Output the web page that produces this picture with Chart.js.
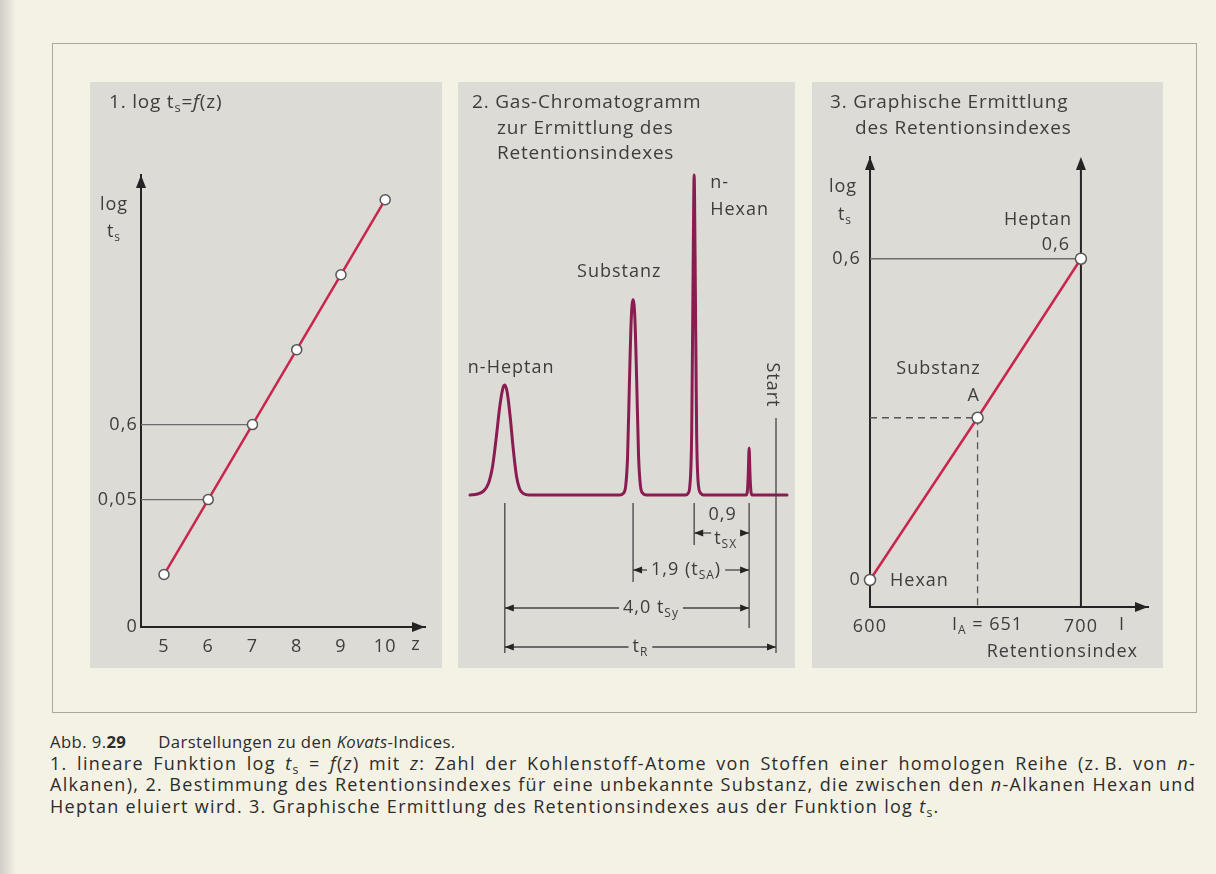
<!DOCTYPE html>
<html lang="de">
<head>
<meta charset="utf-8">
<title>Kovats-Indices</title>
<script src="https://cdn.jsdelivr.net/npm/chart.js@4.4.1/dist/chart.umd.min.js"></script>
<style>
  html, body { margin: 0; padding: 0; }
  body { width: 1216px; height: 874px; position: relative; overflow: hidden;
         background: #f4f2e5; font-family: "Open Sans", sans-serif; color: #3b3b3b; }
  #scanEdge { position: absolute; left: 0; top: 0; width: 16px; height: 874px;
              background: linear-gradient(to right, #cfcdc6, #f4f2e5); }
  #frame { position: absolute; left: 52px; top: 43px; width: 1143px; height: 668px;
           border: 1px solid #aaa79f; }
  .panel { position: absolute; top: 82px; height: 586px; background: #dcdbd6; }
  .panel canvas { position: absolute; left: 0; top: 0; }
  .title { position: absolute; font-size: 19px; letter-spacing: 0.8px; line-height: 25.5px;
           white-space: nowrap; color: #3d3d3d; }
  .title sub, #caption sub { font-size: 68%; line-height: 0; vertical-align: -0.3em; }
  #caption { position: absolute; left: 50px; top: 731px; width: 1146px; font-size: 18px;
             letter-spacing: 1.3px; line-height: 21.7px; color: #2c2c2c; }
  #caption .first { font-size: 16.7px; letter-spacing: 0.4px; white-space: nowrap; }
  #caption .j { text-align: justify; text-align-last: justify; white-space: nowrap; }
  #caption .l { white-space: nowrap; }
</style>
</head>
<body>
<div id="scanEdge"></div>
<div id="frame"></div>

<div class="panel" id="p1" style="left:90px;width:352px">
  <canvas id="c1" width="352" height="586"></canvas>
  <div class="title" style="left:19px;top:7px">1. log t<sub>s</sub>=<i>f</i>(z)</div>
</div>
<div class="panel" id="p2" style="left:458px;width:337px">
  <canvas id="c2" width="337" height="586"></canvas>
  <div class="title" style="left:14px;top:7px">2. Gas-Chromatogramm</div>
  <div class="title" style="left:39px;top:33px">zur Ermittlung des</div>
  <div class="title" style="left:39px;top:58px">Retentionsindexes</div>
</div>
<div class="panel" id="p3" style="left:812px;width:351px">
  <canvas id="c3" width="351" height="586"></canvas>
  <div class="title" style="left:18px;top:7px">3. Graphische Ermittlung</div>
  <div class="title" style="left:43px;top:33px">des Retentionsindexes</div>
</div>

<div id="caption">
  <div class="first">Abb. 9.<b>29</b><span style="margin-left:32px">Darstellungen zu den <i>Kovats</i>-Indices.</span></div>
  <div class="j">1. lineare Funktion log <i>t</i><sub>s</sub> = <i>f</i>(<i>z</i>) mit <i>z</i>: Zahl der Kohlenstoff-Atome von Stoffen einer homologen Reihe (z.&#8201;B. von <i>n</i>-</div>
  <div class="j">Alkanen), 2. Bestimmung des Retentionsindexes für eine unbekannte Substanz, die zwischen den <i>n</i>-Alkanen Hexan und</div>
  <div class="l">Heptan eluiert wird. 3. Graphische Ermittlung des Retentionsindexes aus der Funktion log <i>t</i><sub>s</sub>.</div>
</div>

<script>
// ---- panel 1: log ts = f(z) ----
const carbonNumbers = [5, 6, 7, 8, 9, 10];
const logTsLevels = [0.7, 1.7, 2.7, 3.7, 4.7, 5.7];   // plot units
const p1TickValues = [0, 1.7, 2.7];
const p1TickLabels = ['0', '0,05', '0,6'];
const p1GuidePoints = [1, 2];                          // points joined to the y axis

// ---- panel 2: chromatogram (net retention time, read right to left) ----
const traceTime = [4.57, 4.45, 4.35, 4.27, 4.20, 4.14, 4.08, 4.03, 4.00, 3.96, 3.91, 3.86, 3.81, 3.76, 3.70, 3.60,
  2.12, 2.06, 2.02, 1.99, 1.96, 1.93, 1.90, 1.87, 1.84, 1.81, 1.78, 1.74, 1.68,
  1.04, 1.00, 0.97, 0.94, 0.915, 0.90, 0.885, 0.86, 0.83, 0.79, 0.75,
  0.05, 0.03, 0.015, 0, -0.015, -0.03, -0.05, -0.62];
const traceSignal = [0, 0.3, 1.2, 3.5, 9, 18, 28, 33.5, 34.4, 32, 24, 14, 6, 2, 0.5, 0,
  0, 0.5, 3, 12, 35, 55, 61, 55, 35, 12, 3, 0.5, 0,
  0, 0.5, 3, 20, 75, 100, 75, 20, 3, 0.5, 0,
  0, 1, 6, 14.7, 6, 1, 0, 0];
const peakNames = ['n-Heptan', 'Substanz', 'n-Hexan', ''];
const peakTimes = [4.0, 1.9, 0.9, 0];
const peakHeights = [34.4, 61, 100, 14.7];
const startTime = -0.44;

// ---- panel 3: retention index ----
const retIndex = [600, 651, 700];
const retLogTs = [0, 0.303, 0.6];
const retNames = ['Hexan', 'Substanz', 'Heptan'];
const p3TickValues = [0, 0.6];
const p3TickLabels = ['0', '0,6'];

const RED = '#c8264d';
const PLUM = '#8a1c52';
const AXIS = '#242424';
const TEXT = '#3d3d3d';
const GUIDE = '#6c6c6c';
const FONT = '"Open Sans", sans-serif';

Chart.defaults.font.family = FONT;
Chart.defaults.color = TEXT;

// letter spacing of the printed labels
Chart.register({
  id: 'spacing',
  beforeLayout(chart) { chart.ctx.letterSpacing = '1.2px'; },
  beforeDraw(chart) { chart.ctx.letterSpacing = '1.2px'; }
});

function arrowHead(ctx, x, y, dir, len = 13, half = 5) {
  ctx.save();
  ctx.fillStyle = AXIS;
  ctx.beginPath();
  if (dir === 'up') { ctx.moveTo(x, y); ctx.lineTo(x - half, y + len); ctx.lineTo(x + half, y + len); }
  if (dir === 'right') { ctx.moveTo(x, y); ctx.lineTo(x - len, y - half); ctx.lineTo(x - len, y + half); }
  if (dir === 'left') { ctx.moveTo(x, y); ctx.lineTo(x + len, y - half); ctx.lineTo(x + len, y + half); }
  ctx.closePath();
  ctx.fill();
  ctx.restore();
}

// parts: [text, kind] with kind '' normal, 'i' italic, 's' subscript
function rich(ctx, parts, x, y, align, size = 18) {
  const fontOf = k => (k === 'i' ? 'italic ' : '') + (k === 's' ? Math.round(size * 0.68) : size) + 'px ' + FONT;
  ctx.save();
  ctx.letterSpacing = '1px';
  ctx.textBaseline = 'middle';
  ctx.textAlign = 'left';
  ctx.fillStyle = TEXT;
  let w = 0;
  const widths = parts.map(([t, k]) => { ctx.font = fontOf(k); const m = ctx.measureText(t).width; w += m; return m; });
  let cx = align === 'center' ? x - w / 2 : align === 'right' ? x - w : x;
  parts.forEach(([t, k], i) => {
    ctx.font = fontOf(k);
    ctx.fillText(t, cx, y + (k === 's' ? size * 0.32 : 0));
    cx += widths[i];
  });
  ctx.restore();
  return w;
}

function hLine(ctx, x1, y1, x2, y2, color, width) {
  ctx.save();
  ctx.strokeStyle = color;
  ctx.lineWidth = width;
  ctx.beginPath();
  ctx.moveTo(x1, y1);
  ctx.lineTo(x2, y2);
  ctx.stroke();
  ctx.restore();
}

const comma = v => v.toFixed(1).replace('.', ',');

const baseOptions = {
  responsive: false,
  animation: false,
  events: [],
  plugins: { legend: { display: false }, tooltip: { enabled: false } }
};

// ---------- panel 1 ----------
const deco1 = {
  id: 'deco1',
  afterDraw(chart) {
    const { ctx, chartArea: a } = chart;
    arrowHead(ctx, a.left, a.top, 'up');
    arrowHead(ctx, a.right, a.bottom, 'right');
    rich(ctx, [['log', '']], a.left - 27, a.top + 30, 'center');
    rich(ctx, [['t', ''], ['s', 's']], a.left - 27, a.top + 57, 'center');
    rich(ctx, [['z', '']], a.right - 9, a.bottom + 18, 'center');
  }
};

const X1_MIN = 4.48;
new Chart(document.getElementById('c1'), {
  type: 'line',
  data: {
    datasets: [
      {
        data: carbonNumbers.map((z, i) => ({ x: z, y: logTsLevels[i] })),
        borderColor: RED, borderWidth: 2.5,
        pointRadius: 5, pointBackgroundColor: '#ffffff', pointBorderColor: '#555555', pointBorderWidth: 1.5,
        clip: false, order: 1
      },
      ...p1GuidePoints.map(i => ({
        data: [{ x: X1_MIN, y: logTsLevels[i] }, { x: carbonNumbers[i], y: logTsLevels[i] }],
        borderColor: GUIDE, borderWidth: 1.3, pointRadius: 0, clip: false, order: 2
      }))
    ]
  },
  options: {
    ...baseOptions,
    layout: { padding: { top: 93, right: 17, left: 0, bottom: 0 } },
    scales: {
      x: {
        type: 'linear', min: X1_MIN, max: 10.9,
        grid: { display: false, drawTicks: false },
        border: { display: true, color: AXIS, width: 2 },
        afterBuildTicks: ax => { ax.ticks = carbonNumbers.map(v => ({ value: v })); },
        ticks: { font: { size: 18 }, padding: 9, color: TEXT },
        afterFit: s => { s.height = 41; }
      },
      y: {
        type: 'linear', min: 0, max: 6.03,
        grid: { display: false, drawTicks: false },
        border: { display: true, color: AXIS, width: 2 },
        afterBuildTicks: ax => { ax.ticks = p1TickValues.map(v => ({ value: v })); },
        ticks: { font: { size: 18 }, padding: 3, color: TEXT, callback: (v, i) => p1TickLabels[i] },
        afterFit: s => { s.width = 51; }
      }
    }
  },
  plugins: [deco1]
});

// ---------- panel 2 ----------
const deco2 = {
  id: 'deco2',
  afterDraw(chart) {
    const { ctx, scales: { x, y } } = chart;
    const base = y.getPixelForValue(0);
    const px = peakTimes.map(t => x.getPixelForValue(t));
    const top = peakHeights.map(h => y.getPixelForValue(h));
    const xs = x.getPixelForValue(startTime);

    // start marker and extension lines
    hLine(ctx, xs, base - 77, xs, base + 158, '#444', 1.3);
    const extEnd = [158, 87, 50, 133];
    px.forEach((p, i) => hLine(ctx, p, base + 8, p, base + extEnd[i], '#444', 1.3));

    // dimension arrows with the label sitting in a gap of the line
    const dim = (x1, x2, yy, labelParts, dx = 0, size = 18) => {
      const cx = (x1 + x2) / 2 + dx;
      const w = rich(ctx, labelParts, cx, yy, 'center', size);
      const g1 = cx - w / 2 - 4, g2 = cx + w / 2 + 4;
      if (g1 > x1 + 2) hLine(ctx, x1, yy, g1, yy, '#444', 1.3);
      if (g2 < x2 - 2) hLine(ctx, g2, yy, x2, yy, '#444', 1.3);
      arrowHead(ctx, x1, yy, 'left', 9, 3.5);
      arrowHead(ctx, x2, yy, 'right', 9, 3.5);
    };
    // 0,9 t_SX
    const ySX = base + 38;
    rich(ctx, [[comma(peakTimes[2] - peakTimes[3]), '']], (px[2] + px[3]) / 2 + 1, ySX - 18, 'center');
    const mid = (px[2] + px[3]) / 2 + 4;
    const wsx = rich(ctx, [['t', ''], ['SX', 's']], mid, ySX + 6, 'center');
    hLine(ctx, px[2], ySX, mid - wsx / 2 - 3, ySX, '#444', 1.3);
    hLine(ctx, mid + wsx / 2 + 3, ySX, px[3], ySX, '#444', 1.3);
    arrowHead(ctx, px[2], ySX, 'left', 9, 3.5);
    arrowHead(ctx, px[3], ySX, 'right', 9, 3.5);

    dim(px[1], px[3], base + 75, [[comma(peakTimes[1] - peakTimes[3]) + ' (t', ''], ['SA', 's'], [')', '']], -5);
    dim(px[0], px[3], base + 113, [[comma(peakTimes[0] - peakTimes[3]) + ' t', ''], ['Sy', 's']], 24);
    dim(px[0], xs, base + 152, [['t', ''], ['R', 's']], 0);

    // peak names
    rich(ctx, [[peakNames[0], '']], px[0] - 37, top[0] - 17, 'left');
    rich(ctx, [[peakNames[1], '']], px[1] - 56, top[1] - 28, 'left');
    rich(ctx, [['n-', '']], px[2] + 16, top[2] + 8, 'left');
    rich(ctx, [[peakNames[2].slice(2), '']], px[2] + 16, top[2] + 35, 'left');

    ctx.save();
    ctx.translate(xs - 4, base - 110);
    ctx.rotate(Math.PI / 2);
    rich(ctx, [['Start', '']], 0, 0, 'center');
    ctx.restore();
  }
};

new Chart(document.getElementById('c2'), {
  type: 'line',
  data: {
    datasets: [{
      data: traceTime.map((t, i) => ({ x: t, y: traceSignal[i] })),
      borderColor: PLUM, borderWidth: 3, borderJoinStyle: 'round', borderCapStyle: 'round',
      cubicInterpolationMode: 'monotone', pointRadius: 0, clip: false
    }]
  },
  options: {
    ...baseOptions,
    layout: { padding: { top: 93, right: 8, left: 12, bottom: 13 } },
    scales: {
      x: { type: 'linear', reverse: true, min: -0.62, max: 4.57, display: false },
      y: { type: 'linear', min: -50, max: 100, display: false }
    }
  },
  plugins: [deco2]
});

// ---------- panel 3 ----------
const axes3 = {
  id: 'axes3',
  beforeDatasetsDraw(chart) {
    const { ctx, chartArea: a, scales: { x } } = chart;
    const xr = x.getPixelForValue(retIndex[2]);
    hLine(ctx, xr, a.bottom, xr, a.top + 8, AXIS, 2);
    arrowHead(ctx, xr, a.top, 'up');
    arrowHead(ctx, a.left, a.top, 'up');
    arrowHead(ctx, a.right, a.bottom, 'right');
  },
  afterDraw(chart) {
    const { ctx, chartArea: a, scales: { x, y } } = chart;
    const px = retIndex.map(v => x.getPixelForValue(v));
    const py = retLogTs.map(v => y.getPixelForValue(v));
    rich(ctx, [['log', '']], a.left - 27, a.top + 30, 'center');
    rich(ctx, [['t', ''], ['s', 's']], a.left - 25, a.top + 58, 'center');
    rich(ctx, [[retNames[2], '']], px[2] - 9, py[2] - 39, 'right');
    rich(ctx, [[comma(retLogTs[2]), '']], px[2] - 11, py[2] - 14, 'right');
    rich(ctx, [[retNames[1], '']], px[1] - 39, py[1] - 49, 'center');
    rich(ctx, [['A', '']], px[1] - 4, py[1] - 22, 'center');
    rich(ctx, [[retNames[0], '']], px[0] + 20, py[0] + 1, 'left');
    rich(ctx, [['I', ''], ['A', 's'], [' = ' + retIndex[1], '']], px[1] + 10, a.bottom + 18, 'center');
    rich(ctx, [['I', '']], px[2] + 41, a.bottom + 18, 'center');
    rich(ctx, [['Retentionsindex', '']], a.right - 10, a.bottom + 45, 'right');
  }
};

new Chart(document.getElementById('c3'), {
  type: 'line',
  data: {
    datasets: [
      {
        data: retIndex.map((v, i) => ({ x: v, y: retLogTs[i] })),
        borderColor: RED, borderWidth: 2.5,
        pointRadius: 5.5, pointBackgroundColor: '#ffffff', pointBorderColor: '#555555', pointBorderWidth: 1.5,
        clip: false, order: 1
      },
      {
        data: [{ x: retIndex[0], y: retLogTs[2] }, { x: retIndex[2], y: retLogTs[2] }],
        borderColor: GUIDE, borderWidth: 1.3, pointRadius: 0, clip: false, order: 2
      },
      {
        data: [{ x: retIndex[0], y: retLogTs[1] }, { x: retIndex[1], y: retLogTs[1] }, { x: retIndex[1], y: -0.0505 }],
        borderColor: '#555555', borderWidth: 1.3, borderDash: [7, 5], pointRadius: 0, clip: false, order: 2
      }
    ]
  },
  options: {
    ...baseOptions,
    layout: { padding: { top: 75, right: 15, left: 0, bottom: 0 } },
    scales: {
      x: {
        type: 'linear', min: 600, max: 731.8,
        grid: { display: false, drawTicks: false },
        border: { display: true, color: AXIS, width: 2 },
        afterBuildTicks: ax => { ax.ticks = [retIndex[0], retIndex[2]].map(v => ({ value: v })); },
        ticks: { font: { size: 18 }, padding: 9, color: TEXT, callback: v => String(v) },
        afterFit: s => { s.height = 61; }
      },
      y: {
        type: 'linear', min: -0.0505, max: 0.79,
        grid: { display: false, drawTicks: false },
        border: { display: true, color: AXIS, width: 2 },
        afterBuildTicks: ax => { ax.ticks = p3TickValues.map(v => ({ value: v })); },
        ticks: { font: { size: 18 }, padding: 9, color: TEXT, callback: (v, i) => p3TickLabels[i] },
        afterFit: s => { s.width = 58; }
      }
    }
  },
  plugins: [axes3]
});
</script>
</body>
</html>
